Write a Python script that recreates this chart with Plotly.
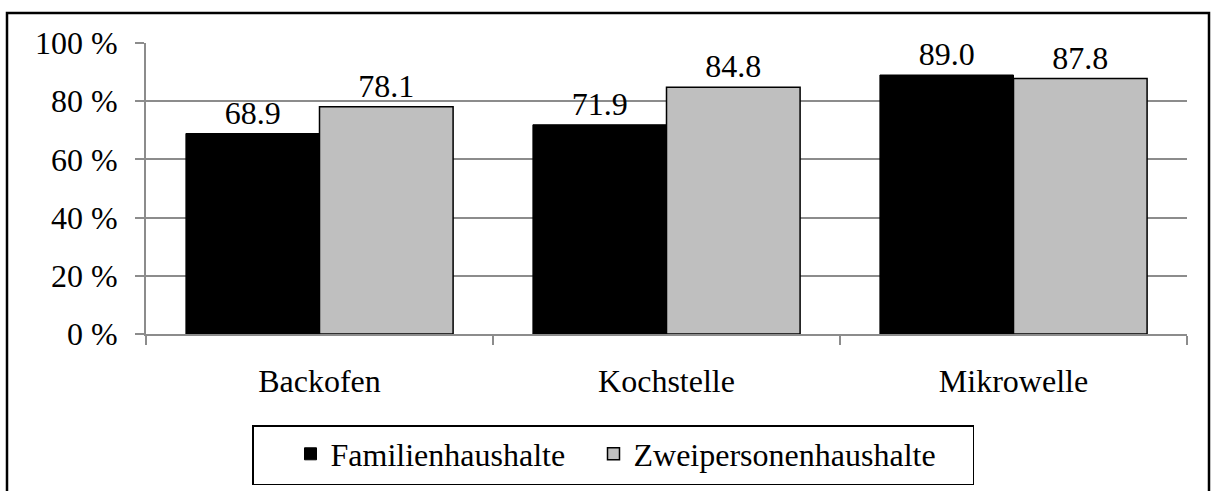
import plotly.graph_objects as go

categories = ["Backofen", "Kochstelle", "Mikrowelle"]
familien = [68.9, 71.9, 89.0]
zweipersonen = [78.1, 84.8, 87.8]
series_names = ["Familienhaushalte", "Zweipersonenhaushalte"]
y_ticks = [0, 20, 40, 60, 80, 100]
y_tick_labels = ["0 %", "20 %", "40 %", "60 %", "80 %", "100 %"]

FONT = "'Times New Roman', 'Liberation Serif', serif"
FS = 32

fig = go.Figure()
fig.add_trace(go.Bar(
    x=categories, y=familien, name=series_names[0],
    marker=dict(color="#000000", line=dict(color="#000000", width=1)),
    texttemplate="%{y:.1f}", textposition="outside",
    textfont=dict(family=FONT, size=FS, color="#000000"),
    cliponaxis=False, legendwidth=258,
))
fig.add_trace(go.Bar(
    x=categories, y=zweipersonen, name=series_names[1],
    marker=dict(color="#bfbfbf", line=dict(color="#000000", width=1.5)),
    texttemplate="%{y:.1f}", textposition="outside",
    textfont=dict(family=FONT, size=FS, color="#000000"),
    cliponaxis=False, legendwidth=334,
))

L, R, T, B = 146, 30, 43, 157
W, H = 1217, 491
pw, ph = W - L - R, H - T - B

def px_x(x):
    return (x - L) / pw

def px_y(y):
    return (H - B - y) / ph

fig.add_shape(type="rect", xref="paper", yref="paper",
              x0=px_x(7), x1=px_x(1209), y0=px_y(13), y1=px_y(500),
              line=dict(color="#000000", width=2.5), layer="above")

fig.update_layout(
    width=W, height=H,
    margin=dict(l=L, r=R, t=T, b=B, autoexpand=False),
    paper_bgcolor="white", plot_bgcolor="white",
    barmode="group", bargap=0.23, bargroupgap=0,
    font=dict(family=FONT, size=FS, color="#000000"),
    showlegend=True,
    legend=dict(
        orientation="h", x=252 / W, xanchor="left", xref="container",
        y=1 - 425 / H, yanchor="top", yref="container",
        bordercolor="#000000", borderwidth=1.5,
        font=dict(family=FONT, size=FS, color="#000000"),
        bgcolor="white",
        title=dict(text="\u00a0\u00a0\u00a0", side="left",
                   font=dict(family=FONT, size=36)),
    ),
    xaxis=dict(
        type="category", tickson="boundaries", ticks="outside",
        ticklen=9, tickwidth=1.5, tickcolor="#8c8c8c",
        showline=True, linecolor="#8c8c8c", linewidth=2,
        showgrid=False, ticklabelstandoff=18,
        tickfont=dict(family=FONT, size=FS, color="#000000"),
    ),
    yaxis=dict(
        range=[0, 100], tickmode="array", tickvals=y_ticks, ticktext=y_tick_labels,
        ticks="outside", ticklen=9, tickwidth=1.5, tickcolor="#8c8c8c",
        showline=True, linecolor="#8c8c8c", linewidth=2,
        showgrid=True, gridcolor="#8c8c8c", gridwidth=1.5,
        zeroline=False, ticklabelstandoff=11,
        tickfont=dict(family=FONT, size=FS, color="#000000"),
    ),
)

fig.write_html("out.html", config={"displayModeBar": False},
               post_script="document.body.style.margin='0';")
